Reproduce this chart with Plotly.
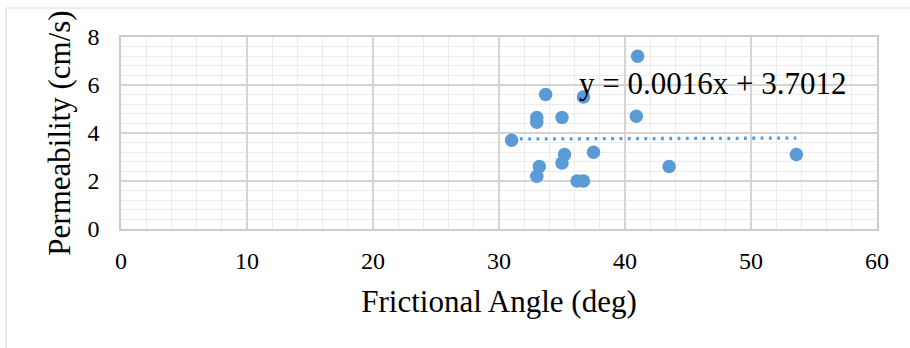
import plotly.graph_objects as go

# Frictional angle (deg) vs permeability (cm/s)
friction_angle = [31.0, 33.7, 33.0, 33.0, 35.0, 36.7, 41.0, 40.9, 35.2,
                  35.0, 37.5, 33.2, 33.0, 36.2, 36.7, 43.5, 53.6]
permeability = [3.7, 5.6, 4.65, 4.45, 4.65, 5.5, 7.2, 4.7, 3.1,
                2.75, 3.2, 2.6, 2.2, 2.0, 2.0, 2.6, 3.1]

# Linear trendline coefficients
slope = 0.0016
intercept = 3.7012
x_ticks = [0, 10, 20, 30, 40, 50, 60]
y_ticks = [0, 2, 4, 6, 8]

blue = "#5b9bd5"
font_family = "Liberation Serif, Times New Roman, serif"

trend_x = [min(friction_angle), max(friction_angle)]
trend_y = [slope * v + intercept for v in trend_x]

fig = go.Figure()
fig.add_trace(go.Scatter(
    x=trend_x, y=trend_y, mode="lines",
    line=dict(color=blue, width=3.3, dash="2.8px,5.5px"),
    hoverinfo="skip", showlegend=False,
))
fig.add_trace(go.Scatter(
    x=friction_angle, y=permeability, mode="markers",
    marker=dict(color=blue, size=13.5, line=dict(width=0)),
    showlegend=False,
))

fig.add_annotation(
    x=36.2, y=6.05, xref="x", yref="y",
    text=f"y = {slope:.4f}x + {intercept:.4f}",
    showarrow=False, xanchor="left", yanchor="middle",
    font=dict(family=font_family, size=31, color="#000000"),
)

# Chart frame
fig.add_shape(
    type="rect", xref="paper", yref="paper",
    x0=-0.152, x1=1.06, y0=-0.65, y1=1.151,
    line=dict(color="#d9d9d9", width=1), fillcolor="rgba(0,0,0,0)",
    layer="below",
)

axis_common = dict(
    showgrid=True, gridcolor="#d4d4d4", gridwidth=1.6,
    showline=True, linecolor="#cccccc", linewidth=1.6, mirror=True,
    zeroline=False, ticks="",
    tickfont=dict(family=font_family, size=24, color="#000000"),
)

fig.update_xaxes(
    range=[0, 60], tickvals=x_ticks,
    minor=dict(dtick=2, showgrid=True, gridcolor="#ececec", gridwidth=1.4),
    ticklabelstandoff=9,
    title=dict(text="Frictional Angle (deg)",
               font=dict(family=font_family, size=31, color="#000000"),
               standoff=18),
    **axis_common,
)
fig.update_yaxes(
    range=[0, 8], tickvals=y_ticks,
    minor=dict(dtick=0.4, showgrid=True, gridcolor="#ececec", gridwidth=1.4),
    ticklabelstandoff=15,
    title=dict(text="Permeability (cm/s)",
               font=dict(family=font_family, size=31, color="#000000"),
               standoff=8),
    **axis_common,
)

fig.update_layout(
    width=910, height=348,
    margin=dict(l=121, r=33, t=37, b=119),
    paper_bgcolor="#ffffff", plot_bgcolor="#ffffff",
    font=dict(family=font_family, color="#000000"),
)

fig.write_html("out.html")
